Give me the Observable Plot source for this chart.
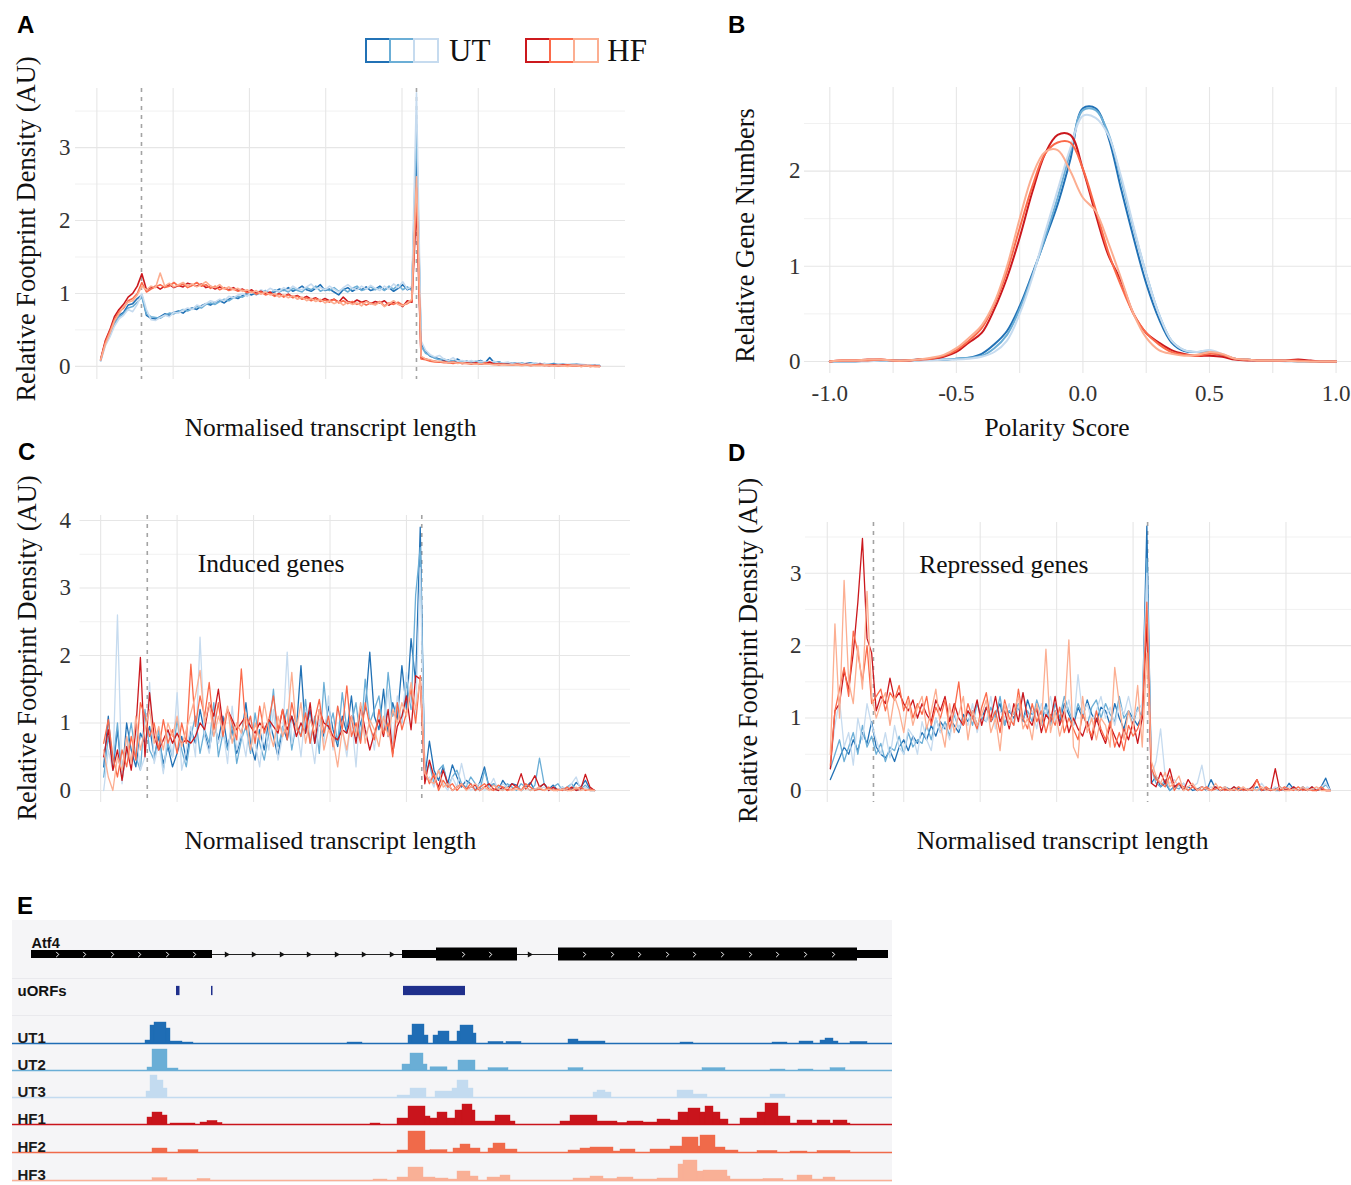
<!DOCTYPE html>
<html>
<head>
<meta charset="utf-8">
<script src="https://cdn.jsdelivr.net/npm/d3@7"></script>
<script src="https://cdn.jsdelivr.net/npm/@observablehq/plot@0.6"></script>
<style>
  html, body { margin: 0; padding: 0; background: #fff; }
  body { width: 1351px; height: 1185px; position: relative; overflow: hidden; font-family: "Liberation Serif", "Times New Roman", serif; }
  .abs { position: absolute; }
  .letter { font-family: "Liberation Sans", Arial, sans-serif; font-weight: bold; font-size: 24px; line-height: 1; color: #000; }
  .legend { display: flex; align-items: center; }
  .sq { width: 26px; height: 25px; box-sizing: border-box; border: 2px solid; background: #fff; margin-left: -2px; }
  .sq:first-child { margin-left: 0; }
  .legtext { font-size: 31px; margin-left: 10px; line-height: 1; color: #111; }
  svg { overflow: visible; }
</style>
</head>
<body>
<script>
// ---------------- shared ----------------
const seriesNames = ["UT1", "UT2", "UT3", "HF1", "HF2", "HF3"];
const seriesColors = ["#2171b5", "#6baed6", "#c6dbef", "#cb181d", "#fb6a4a", "#fcae91"];

// ---------------- Panel A: all genes metagene profile ----------------
const binStartA = 0.05, binStepA = 0.06;
const aUT1 = [0.08,0.32,0.46,0.6,0.7,0.74,0.84,0.86,0.93,0.98,
0.7,0.66,0.65,0.68,0.72,0.7,0.74,0.76,0.73,0.78,
0.8,0.78,0.83,0.86,0.84,0.88,0.9,0.87,0.92,0.95,
0.93,0.97,1.0,0.98,1.01,1.0,1.03,0.99,1.02,1.06,
1.04,1.08,1.03,1.06,1.1,1.05,1.03,1.07,1.12,1.04,
1.06,1.02,0.98,1.05,1.08,1.03,1.07,1.05,1.09,1.04,
1.06,1.1,1.05,1.08,1.03,1.07,1.12,1.05,1.08,3.0,
0.32,0.2,0.14,0.12,0.1,0.08,0.09,0.07,0.1,0.06,
0.07,0.05,0.06,0.08,0.05,0.12,0.05,0.06,0.04,0.05,
0.04,0.05,0.03,0.04,0.05,0.03,0.04,0.02,0.03,0.04,
0.02,0.03,0.02,0.02,0.03,0.02,0.01,0.02,0.01,0.01];
const aUT2 = [0.08,0.3,0.42,0.58,0.68,0.72,0.8,0.82,0.88,0.95,
0.72,0.68,0.67,0.66,0.7,0.73,0.72,0.75,0.78,0.76,
0.79,0.82,0.8,0.85,0.87,0.85,0.89,0.92,0.9,0.94,
0.96,0.95,0.99,1.02,0.98,1.01,1.04,1.0,1.05,1.02,
1.05,1.02,1.07,1.04,1.02,1.08,1.05,1.1,1.03,1.06,
1.04,1.08,1.03,1.06,1.02,1.07,1.1,1.04,1.06,1.09,
1.05,1.08,1.04,1.1,1.06,1.12,1.05,1.09,1.04,3.3,
0.28,0.18,0.15,0.11,0.09,0.1,0.07,0.08,0.06,0.07,
0.05,0.06,0.07,0.05,0.06,0.04,0.05,0.06,0.04,0.03,
0.04,0.03,0.05,0.03,0.04,0.02,0.03,0.04,0.02,0.03,
0.03,0.02,0.02,0.03,0.02,0.01,0.02,0.01,0.01,0.01];
const aUT3 = [0.07,0.28,0.4,0.55,0.65,0.7,0.78,0.75,0.85,1.0,
0.78,0.64,0.63,0.67,0.7,0.68,0.74,0.73,0.77,0.8,
0.78,0.84,0.82,0.86,0.9,0.88,0.92,0.9,0.96,0.94,
0.98,1.0,0.96,1.03,1.0,1.05,1.02,1.07,1.04,1.03,
1.08,1.04,1.1,1.06,1.05,1.09,1.13,1.06,1.08,1.05,
1.1,1.06,1.02,1.08,1.12,1.07,1.05,1.1,1.06,1.11,
1.07,1.04,1.1,1.06,1.13,1.08,1.16,1.06,1.1,3.75,
0.35,0.22,0.16,0.13,0.15,0.1,0.08,0.12,0.07,0.08,
0.06,0.08,0.05,0.07,0.06,0.05,0.07,0.04,0.05,0.06,
0.03,0.05,0.04,0.03,0.04,0.05,0.03,0.04,0.03,0.02,
0.03,0.02,0.03,0.02,0.02,0.03,0.02,0.02,0.01,0.01];
const aHF1 = [0.1,0.35,0.5,0.68,0.78,0.85,0.95,1.0,1.1,1.27,
1.05,1.08,1.1,1.06,1.1,1.12,1.08,1.11,1.09,1.14,
1.12,1.1,1.13,1.08,1.1,1.06,1.09,1.07,1.05,1.08,
1.04,1.06,1.02,1.05,1.0,1.03,0.99,1.02,0.97,1.0,
0.96,0.99,0.95,0.97,0.93,0.96,0.92,0.94,0.9,0.93,
0.9,0.92,0.88,0.95,0.89,0.87,0.91,0.88,0.9,0.86,
0.89,0.87,0.9,0.84,0.88,0.86,0.82,0.9,0.88,2.2,
0.12,0.1,0.08,0.07,0.06,0.07,0.05,0.06,0.05,0.04,
0.05,0.04,0.05,0.03,0.04,0.06,0.03,0.04,0.03,0.03,
0.02,0.03,0.02,0.03,0.02,0.02,0.03,0.02,0.01,0.02,
0.01,0.02,0.01,0.01,0.01,0.01,0.01,0.0,0.01,0.0];
const aHF2 = [0.09,0.33,0.48,0.64,0.75,0.8,0.9,0.93,1.0,1.15,
1.02,1.06,1.09,1.12,1.08,1.1,1.15,1.1,1.13,1.08,
1.11,1.15,1.1,1.12,1.07,1.1,1.05,1.08,1.04,1.06,
1.03,1.05,1.01,1.03,0.99,1.02,0.98,1.0,0.96,0.99,
0.95,0.98,0.94,0.96,0.92,0.94,0.9,0.93,0.89,0.91,
0.88,0.92,0.87,0.9,0.86,0.89,0.85,0.88,0.84,0.87,
0.85,0.89,0.83,0.87,0.85,0.88,0.84,0.86,0.9,2.45,
0.1,0.09,0.07,0.06,0.06,0.05,0.05,0.04,0.05,0.04,
0.04,0.03,0.04,0.03,0.05,0.03,0.03,0.02,0.03,0.02,
0.02,0.03,0.02,0.02,0.01,0.02,0.02,0.01,0.02,0.01,
0.01,0.01,0.02,0.01,0.01,0.0,0.01,0.01,0.0,0.0];
const aHF3 = [0.09,0.3,0.45,0.62,0.72,0.82,0.88,0.9,0.98,1.1,
1.05,1.1,1.08,1.28,1.1,1.14,1.09,1.12,1.15,1.1,
1.13,1.09,1.12,1.16,1.1,1.08,1.12,1.06,1.09,1.05,
1.07,1.03,1.05,1.01,1.04,0.99,1.02,0.98,1.0,0.95,
0.98,0.94,0.97,0.92,0.95,0.9,0.93,0.89,0.92,0.87,
0.9,0.86,0.89,0.84,0.88,0.85,0.87,0.83,0.89,0.86,
0.84,0.88,0.82,0.86,0.9,0.85,0.83,0.87,0.92,2.6,
0.14,0.1,0.09,0.07,0.07,0.06,0.05,0.06,0.04,0.05,
0.04,0.04,0.03,0.04,0.03,0.03,0.02,0.03,0.02,0.02,
0.02,0.02,0.01,0.02,0.02,0.01,0.01,0.02,0.01,0.01,
0.01,0.01,0.0,0.01,0.01,0.0,0.01,0.0,0.0,0.0];
const dashedA = [0.585, 4.19];

// ---------------- Panel B: polarity score densities ----------------
const polarityX = [-1,-0.95,-0.9,-0.85,-0.8,-0.75,-0.7,-0.65,-0.6,-0.55,-0.5,-0.45,-0.4,-0.35,-0.3,-0.25,-0.2,-0.15,-0.1,-0.05,0,
0.05,0.1,0.15,0.2,0.25,0.3,0.35,0.4,0.45,0.5,0.55,0.6,0.65,0.7,0.75,0.8,0.85,0.9,0.95,1];
const bUT1 = [0,0,0,0.01,0.01,0.01,0.01,0.02,0.02,0.02,0.03,0.04,0.08,0.18,0.32,0.58,0.92,1.28,1.65,2.12,2.66,2.66,2.36,1.82,1.3,0.82,0.45,0.2,0.11,0.1,0.1,0.06,0.03,0.02,0.01,0.01,0.01,0,0,0,0];
const bUT2 = [0,0,0,0.01,0.01,0.01,0.01,0.01,0.02,0.02,0.03,0.04,0.06,0.14,0.28,0.55,0.9,1.3,1.72,2.2,2.64,2.64,2.4,1.92,1.4,0.92,0.5,0.22,0.12,0.1,0.11,0.07,0.03,0.02,0.01,0.01,0.01,0,0,0,0];
const bUT3 = [0,0,0,0,0.01,0.01,0.01,0.01,0.01,0.02,0.02,0.03,0.05,0.1,0.22,0.5,0.88,1.35,1.8,2.24,2.58,2.56,2.38,1.95,1.42,0.92,0.5,0.22,0.12,0.1,0.12,0.08,0.03,0.02,0.01,0.01,0,0,0,0,0];
const bHF1 = [0,0.01,0.01,0.02,0.02,0.01,0.01,0.02,0.03,0.05,0.1,0.2,0.3,0.55,0.88,1.3,1.78,2.18,2.38,2.38,2.02,1.55,1.12,0.85,0.5,0.3,0.2,0.12,0.08,0.06,0.06,0.05,0.02,0.01,0.01,0.01,0.01,0.02,0.01,0,0];
const bHF2 = [0,0.01,0.01,0.01,0.02,0.01,0.01,0.02,0.03,0.06,0.12,0.22,0.35,0.6,0.95,1.4,1.84,2.18,2.3,2.3,2.02,1.6,1.15,0.8,0.5,0.3,0.18,0.1,0.07,0.06,0.08,0.07,0.03,0.02,0.01,0.01,0.01,0.01,0,0,0];
const bHF3 = [0,0.01,0.01,0.02,0.02,0.01,0.01,0.02,0.04,0.07,0.14,0.25,0.38,0.62,1.0,1.5,1.95,2.2,2.22,2.0,1.72,1.58,1.25,0.88,0.5,0.25,0.12,0.08,0.06,0.07,0.1,0.08,0.03,0.02,0.01,0.01,0.01,0,0,0,0];
const polarityTicks = [-1, -0.5, 0, 0.5, 1];

// ---------------- Panel C: induced genes ----------------
const binStartC = 0.04, binStepC = 0.06;
const cUT1 = [0.35,1.1,0.3,0.9,0.2,1.0,0.6,0.35,0.85,0.7,
0.95,0.5,0.8,0.4,0.65,0.35,0.55,0.8,0.45,0.9,
0.7,1.2,0.85,0.6,1.0,0.75,1.1,0.65,0.9,0.55,
0.8,1.3,0.7,0.45,0.9,0.6,1.05,0.8,0.5,0.95,
0.75,1.1,0.9,1.85,0.85,1.2,0.7,1.0,0.8,1.25,
0.9,0.65,1.1,0.85,1.4,0.75,1.0,1.2,2.05,1.1,
0.9,1.5,0.8,1.3,1.05,1.85,1.2,2.25,1.6,3.9,
0.2,0.73,0.3,0.15,0.35,0.1,0.38,0.2,0.05,0.15,
0.1,0.0,0.12,0.35,0.05,0.1,0.0,0.15,0.05,0.1,
0.08,0.0,0.05,0.12,0.0,0.05,0.1,0.02,0.08,0.0,
0.05,0.0,0.02,0.12,0.05,0.15,0.02,0.0];
const cUT2 = [0.2,0.8,0.4,1.0,0.15,0.6,1.0,0.5,0.3,1.2,
0.6,0.45,0.9,0.3,0.7,0.5,1.05,0.6,0.35,0.8,
1.1,0.55,0.9,0.7,1.3,0.5,0.85,0.6,1.0,0.4,
0.75,0.95,0.55,1.15,0.7,0.45,0.85,1.5,0.65,0.9,
1.2,0.6,1.0,0.8,1.35,0.7,1.1,0.55,1.6,0.9,
1.15,0.7,1.45,0.9,1.0,1.3,0.75,1.65,1.0,1.2,
1.4,0.85,1.75,1.1,1.3,1.0,1.6,1.2,2.9,3.6,
0.25,0.4,0.1,0.3,0.38,0.05,0.2,0.3,0.1,0.05,
0.2,0.1,0.0,0.3,0.05,0.1,0.05,0.0,0.1,0.05,
0.0,0.1,0.05,0.0,0.08,0.48,0.1,0.0,0.05,0.1,
0.0,0.05,0.1,0.0,0.02,0.08,0.0,0.0];
const cUT3 = [0.0,0.6,0.3,2.6,0.1,0.8,0.4,0.9,0.3,0.5,
1.6,0.4,0.7,0.25,0.9,0.5,1.45,0.3,0.6,0.95,
0.5,2.27,0.8,0.55,1.1,0.7,0.9,0.4,1.25,0.6,
0.85,0.5,1.1,0.7,0.35,0.95,0.6,1.2,0.45,0.8,
2.05,0.7,1.0,0.5,1.2,0.85,0.4,1.05,0.7,1.4,
0.6,1.25,0.9,0.5,1.1,0.35,1.3,0.8,1.0,0.6,
1.2,0.9,1.5,0.7,1.4,1.0,1.75,1.3,1.1,3.3,
0.15,0.2,0.05,0.3,0.1,0.0,0.2,0.05,0.4,0.1,
0.0,0.05,0.1,0.0,0.05,0.18,0.0,0.1,0.05,0.0,
0.05,0.0,0.1,0.05,0.0,0.03,0.05,0.0,0.02,0.0,
0.05,0.0,0.1,0.2,0.0,0.05,0.0,0.0];
const cHF1 = [0.5,0.9,0.3,0.6,0.15,0.65,0.3,0.9,1.97,0.5,
1.45,0.8,0.6,0.75,0.9,0.7,0.85,0.7,0.75,0.7,
0.8,1.0,0.9,1.3,1.1,1.5,0.95,1.2,1.05,0.9,
1.0,1.1,0.95,0.85,1.0,0.9,1.05,0.95,0.85,1.2,
0.9,1.1,0.8,1.0,0.85,1.3,0.7,1.2,1.0,0.95,
0.8,0.75,0.9,0.85,1.1,0.7,1.25,0.9,0.6,0.85,
1.05,0.8,1.2,0.55,0.95,1.1,1.4,0.9,1.7,1.65,
0.1,0.45,0.2,0.05,0.3,0.1,0.0,0.05,0.1,0.02,
0.05,0.08,0.0,0.05,0.1,0.02,0.0,0.05,0.0,0.1,
0.05,0.25,0.02,0.1,0.22,0.05,0.1,0.0,0.05,0.0,
0.02,0.0,0.05,0.0,0.02,0.24,0.05,0.0];
const cHF2 = [0.7,1.05,0.5,0.2,0.6,0.35,0.8,0.45,1.3,1.1,
0.8,1.0,0.6,1.05,0.7,0.9,0.55,1.0,0.7,1.87,
0.95,1.4,1.1,1.6,0.9,1.3,0.8,1.2,1.0,0.75,
1.8,0.9,1.1,0.7,1.25,0.85,1.05,1.4,0.9,1.2,
0.75,1.3,0.95,0.8,1.15,0.7,1.05,1.35,0.85,1.1,
0.65,1.25,0.9,1.55,0.8,1.0,0.7,1.3,0.95,0.75,
1.2,0.85,1.0,0.5,1.3,0.9,1.15,1.5,1.0,1.7,
0.3,0.1,0.25,0.0,0.15,0.05,0.1,0.0,0.08,0.02,
0.1,0.0,0.05,0.1,0.02,0.0,0.08,0.05,0.0,0.02,
0.06,0.0,0.1,0.05,0.0,0.02,0.0,0.05,0.0,0.02,
0.0,0.05,0.0,0.02,0.05,0.0,0.02,0.0];
const cHF3 = [0.6,0.2,0.0,0.5,0.3,0.8,0.4,1.1,0.6,0.9,
1.2,0.7,0.95,0.6,1.0,0.8,1.1,0.65,0.9,1.15,
1.4,1.78,1.0,1.3,0.8,1.1,0.9,1.25,0.7,1.0,
0.85,1.15,0.6,1.0,0.75,1.3,0.9,0.65,1.1,0.8,
1.0,1.75,0.9,1.3,0.7,1.05,0.85,1.2,0.6,0.9,
0.75,0.35,0.9,0.6,1.1,0.8,1.3,0.7,1.05,0.9,
0.65,1.1,0.8,1.2,1.0,1.3,1.1,1.6,1.2,1.65,
0.25,0.15,0.1,0.3,0.05,0.1,0.0,0.05,0.1,0.0,
0.05,0.1,0.0,0.05,0.0,0.08,0.02,0.0,0.05,0.0,
0.02,0.0,0.05,0.0,0.02,0.05,0.0,0.02,0.0,0.0,
0.02,0.0,0.0,0.05,0.0,0.02,0.0,0.0];
const dashedC = [0.61, 4.2];
const labelC = {x: 2.23, y: 3.36, text: "Induced genes"};

// ---------------- Panel D: repressed genes ----------------
const binStartD = 0.04, binStepD = 0.06;
const dUT1 = [0.15,0.3,0.45,0.6,0.5,0.7,0.55,0.8,0.65,0.95,
0.6,0.5,0.45,0.55,0.4,0.6,0.7,0.55,0.75,0.65,
0.8,0.7,0.9,0.75,0.95,0.85,1.0,0.9,0.8,1.05,
0.95,1.1,0.9,1.0,1.15,0.95,1.05,1.2,0.9,1.1,
1.0,1.15,0.95,1.25,1.05,1.1,0.9,1.2,1.0,1.1,
0.95,1.2,1.05,0.9,1.15,1.0,1.25,1.05,0.95,1.15,
1.1,0.9,1.2,1.0,0.85,1.1,1.0,0.9,1.05,3.65,
0.1,0.2,0.05,0.1,0.0,0.05,0.08,0.02,0.05,0.0,
0.02,0.05,0.0,0.15,0.02,0.0,0.05,0.02,0.0,0.03,
0.0,0.02,0.0,0.05,0.0,0.02,0.0,0.02,0.05,0.0,
0.1,0.02,0.0,0.05,0.0,0.02,0.0,0.05,0.17,0.0];
const dUT2 = [0.3,0.5,0.7,0.4,0.6,0.8,0.5,0.9,0.6,0.75,
0.5,0.65,0.4,0.6,0.55,0.75,0.5,0.8,0.6,0.7,
0.65,0.9,0.7,1.0,0.8,0.95,0.75,1.05,0.85,1.0,
1.1,0.9,1.2,1.0,0.95,1.15,1.0,1.3,0.9,1.1,
1.05,1.2,1.0,1.1,0.95,1.25,1.05,1.15,0.9,1.2,
1.0,1.3,1.1,0.95,1.2,1.05,0.9,1.15,1.25,1.0,
1.2,1.05,0.95,1.3,1.0,1.1,0.9,1.15,1.0,3.2,
0.3,0.1,0.05,0.15,0.0,0.05,0.02,0.1,0.0,0.05,
0.0,0.05,0.02,0.0,0.05,0.0,0.02,0.0,0.05,0.0,
0.02,0.0,0.05,0.0,0.02,0.0,0.03,0.0,0.0,0.02,
0.0,0.05,0.0,0.02,0.0,0.05,0.0,0.02,0.08,0.0];
const dUT3 = [0.4,0.9,1.25,0.6,0.8,0.35,1.0,0.7,1.2,0.9,
0.7,0.5,0.8,0.45,0.9,0.6,0.5,0.85,0.75,0.5,
0.95,0.7,0.55,1.0,0.8,0.9,0.7,1.1,0.85,1.0,
0.9,1.2,0.8,1.05,0.95,1.3,0.85,1.1,1.0,1.2,
0.9,1.15,1.35,1.0,1.1,0.85,1.2,1.05,1.3,0.95,
1.1,1.0,1.25,0.9,1.6,1.05,1.2,0.95,1.1,1.3,
1.0,1.15,0.9,1.2,1.05,1.3,1.0,1.1,1.2,3.0,
0.2,0.4,0.85,0.2,0.1,0.15,0.05,0.1,0.0,0.05,
0.1,0.35,0.0,0.05,0.02,0.0,0.05,0.0,0.02,0.05,
0.0,0.02,0.05,0.0,0.1,0.02,0.0,0.05,0.0,0.02,
0.05,0.0,0.02,0.0,0.05,0.0,0.02,0.05,0.1,0.0];
const dHF1 = [0.3,1.1,1.2,1.65,1.4,1.9,2.6,3.48,2.1,1.9,
1.1,1.3,1.2,1.55,1.25,1.35,1.2,1.1,1.25,1.0,
1.2,1.05,0.95,1.25,1.1,1.3,0.95,1.2,1.0,0.9,
1.1,1.0,1.25,0.9,1.15,1.0,1.3,0.95,1.1,0.85,
1.2,0.95,1.35,1.0,0.9,1.15,0.8,1.05,0.95,1.3,
0.9,1.1,0.8,1.0,0.85,0.75,0.95,0.7,1.0,0.8,
0.65,0.9,0.75,0.6,0.85,0.7,0.95,0.65,1.0,2.3,
0.1,0.05,0.25,0.1,0.3,0.05,0.1,0.0,0.15,0.05,
0.0,0.05,0.02,0.0,0.05,0.0,0.02,0.0,0.05,0.0,
0.02,0.0,0.05,0.15,0.0,0.02,0.0,0.3,0.0,0.02,
0.0,0.05,0.0,0.02,0.0,0.05,0.0,0.02,0.0,0.0];
const dHF2 = [0.35,1.1,1.4,1.7,1.3,2.2,1.9,1.5,2.0,1.2,
1.3,1.4,1.1,1.35,1.25,1.45,1.1,1.3,1.0,1.2,
1.05,1.3,0.9,1.15,1.0,1.25,0.85,1.1,1.5,0.9,
1.2,1.0,0.85,1.15,1.35,0.95,1.1,0.8,1.25,1.0,
0.9,1.4,1.0,0.85,1.2,0.95,1.1,0.8,1.05,0.9,
1.15,0.8,1.0,0.85,0.7,1.05,0.9,0.75,1.1,0.85,
0.7,0.95,0.6,0.8,0.55,0.9,0.75,0.85,1.05,2.6,
0.3,0.15,0.1,0.05,0.2,0.0,0.1,0.05,0.0,0.05,
0.02,0.0,0.05,0.0,0.02,0.05,0.0,0.02,0.0,0.05,
0.0,0.02,0.0,0.15,0.0,0.05,0.0,0.02,0.0,0.05,
0.02,0.0,0.05,0.0,0.02,0.0,0.0,0.05,0.0,0.0];
const dHF3 = [0.5,2.3,1.0,2.9,1.5,1.2,2.0,1.4,2.75,1.3,
1.0,1.2,1.35,0.9,1.3,1.1,0.8,1.25,0.9,1.15,
1.3,0.85,1.1,1.4,0.9,0.6,1.2,0.8,1.05,1.3,
0.7,1.1,0.9,1.05,1.25,0.8,1.0,0.55,1.2,0.9,
1.1,1.3,0.85,1.0,0.7,1.2,0.9,1.95,0.8,1.1,
0.75,1.0,2.08,0.6,0.45,1.3,0.8,1.0,0.7,1.0,
0.9,0.6,1.7,1.2,0.7,1.1,0.85,1.45,0.6,1.9,
0.4,0.2,0.1,0.25,0.05,0.1,0.2,0.0,0.05,0.1,
0.0,0.05,0.02,0.0,0.1,0.0,0.05,0.0,0.02,0.0,
0.05,0.0,0.02,0.0,0.05,0.0,0.02,0.0,0.05,0.0,
0.0,0.02,0.0,0.05,0.0,0.02,0.05,0.0,0.0,0.0];
const dashedD = [0.604, 4.19];
const labelD = {x: 2.31, y: 3.12, text: "Repressed genes"};

// ---------------- Panel E: Atf4 genome browser (positions in bp) ----------------
const locusDomain = [24, 1784];
const atf4Exons = [
  {start: 62, end: 424, part: "UTR"},
  {start: 804, end: 872, part: "UTR"},
  {start: 872, end: 1034, part: "CDS"},
  {start: 1116, end: 1714, part: "CDS"},
  {start: 1714, end: 1776, part: "UTR"}
];
const atf4Introns = [[424, 804], [1034, 1116]];
const atf4ExonChevrons = [114, 168, 224, 278, 334, 388, 926, 980, 1168, 1224, 1278, 1334, 1388, 1444, 1500, 1554, 1610, 1666];
const atf4IntronArrows = [452, 506, 562, 616, 672, 726, 782, 1058];
const uorfs = [[352, 359], [422, 425], [806, 930]];
const trackNames = ["UT1", "UT2", "UT3", "HF1", "HF2", "HF3"];
const trackUT1 = [[290,300,15],[300,308,90],[308,332,105],[332,340,75],[340,364,10],[364,386,5],[694,724,5],[816,824,40],[824,848,95],[848,856,40],[866,876,40],[876,898,60],[898,914,10],[914,920,60],[920,946,90],[946,952,50],[976,1006,8],[1012,1042,8],[1136,1156,20],[1156,1210,10],[1360,1386,5],[1544,1574,5],[1598,1626,10],[1640,1650,15],[1650,1666,25],[1666,1676,10],[1700,1734,8]];
const trackUT2 = [[294,304,15],[304,334,105],[334,356,10],[804,820,30],[820,846,85],[846,854,30],[860,894,16],[916,950,50],[976,1016,12],[1136,1166,12],[1404,1450,12],[1540,1570,5],[1596,1626,5],[1660,1690,12]];
const trackUT3 = [[292,300,30],[300,314,110],[314,326,85],[326,334,45],[794,820,10],[820,852,45],[870,904,30],[904,914,45],[914,936,85],[936,946,45],[1186,1194,25],[1194,1210,35],[1210,1222,25],[1354,1386,35],[1386,1414,15],[1540,1570,15]];
const trackHF1 = [[294,304,35],[304,324,60],[324,334,45],[340,390,5],[400,414,10],[414,434,18],[434,444,8],[740,760,5],[794,816,30],[816,850,90],[850,860,40],[860,874,30],[874,894,60],[894,910,30],[910,924,70],[924,944,100],[944,950,70],[950,990,15],[990,1020,45],[1020,1030,15],[1120,1140,15],[1140,1194,45],[1194,1234,15],[1234,1254,8],[1254,1286,15],[1286,1314,10],[1314,1340,25],[1340,1356,20],[1356,1376,60],[1376,1400,80],[1400,1410,60],[1410,1426,90],[1426,1440,60],[1440,1456,25],[1480,1514,30],[1514,1530,60],[1530,1556,105],[1556,1580,40],[1580,1594,5],[1594,1624,20],[1624,1634,5],[1634,1660,20],[1660,1666,5],[1666,1694,20],[1694,1700,5]];
const trackHF2 = [[304,334,20],[356,396,12],[794,816,10],[816,850,105],[850,860,10],[860,894,12],[906,920,20],[920,940,40],[940,960,20],[976,986,20],[986,1010,45],[1010,1034,15],[1136,1160,10],[1160,1180,20],[1180,1226,25],[1226,1240,5],[1240,1270,15],[1300,1340,15],[1340,1364,30],[1364,1396,75],[1396,1400,30],[1400,1430,85],[1430,1450,25],[1450,1476,10],[1514,1554,8],[1580,1614,5],[1634,1700,8]];
const trackHF3 = [[304,334,12],[394,420,8],[746,774,5],[794,816,15],[816,846,65],[846,870,15],[870,896,10],[896,914,5],[914,940,45],[940,956,20],[974,1000,15],[1000,1020,25],[1146,1180,10],[1180,1206,20],[1206,1234,8],[1234,1266,15],[1266,1314,5],[1314,1356,10],[1356,1366,80],[1366,1394,100],[1394,1406,45],[1406,1454,50],[1454,1460,20],[1460,1526,5],[1526,1566,8],[1594,1624,25],[1624,1646,5],[1646,1670,15]];
const trackColors = ["#1f6db5", "#6aaed6", "#c3dbf0", "#c9141c", "#f06a4a", "#f9b096"];

// ======================================================================
const SERIF = "'Liberation Serif', 'Times New Roman', serif";
const SANS = "'Liberation Sans', Arial, sans-serif";

function place(node, left, top) {
  const d = document.createElement("div");
  d.className = "abs";
  d.style.left = left + "px";
  d.style.top = top + "px";
  d.appendChild(node);
  document.body.appendChild(d);
  return d;
}
function html(str, left, top, cls) {
  const d = document.createElement("div");
  d.className = "abs " + (cls || "");
  d.style.left = left + "px";
  d.style.top = top + "px";
  d.innerHTML = str;
  document.body.appendChild(d);
}

function binnedRows(arrays, start, step) {
  return seriesNames.flatMap((s, k) => arrays[k].map((y, i) => ({series: s, x: start + i * step, y})));
}
function xyRows(xs, arrays) {
  return seriesNames.flatMap((s, k) => arrays[k].map((y, i) => ({series: s, x: xs[i], y})));
}

function chart(o) {
  const marks = [
    Plot.ruleY(o.yMinor, {stroke: "#f1f1f1", strokeWidth: 1}),
    Plot.ruleY(o.yTicks, {stroke: "#e6e6e6", strokeWidth: 1.1}),
    Plot.ruleX(o.xGrid, {stroke: "#e6e6e6", strokeWidth: 1.1}),
  ];
  if (o.dashed) marks.push(Plot.ruleX(o.dashed, {stroke: "#a3a3a3", strokeWidth: 1.6, strokeDasharray: "4,5"}));
  marks.push(Plot.line(o.rows, {x: "x", y: "y", z: "series", stroke: "series", strokeWidth: o.lineWidth, curve: o.curve || "linear"}));
  marks.push(Plot.text([o.yTitle], {frameAnchor: "left", textAnchor: "middle", lineAnchor: "middle", rotate: -90, dx: o.yTitleDx, dy: o.yTitleDy, fontSize: 26.5, fill: "#111", fontFamily: SERIF}));
  marks.push(Plot.text([o.xTitle], {frameAnchor: "bottom", textAnchor: "middle", lineAnchor: "middle", dx: o.xTitleDx, dy: o.xTitleDy, fontSize: 25.5, fill: "#111", fontFamily: SERIF}));
  if (o.label) marks.push(Plot.text([o.label], {x: "x", y: "y", text: "text", fontSize: 25.5, fill: "#111", fontFamily: SERIF}));
  return Plot.plot({
    width: o.width, height: o.height,
    marginLeft: o.ml, marginRight: o.mr, marginTop: o.mt, marginBottom: o.mb,
    style: {fontFamily: SERIF, fontSize: "23px", color: "#333", background: "none", overflow: "visible"},
    x: o.xTicks
      ? {domain: o.xDomain, ticks: o.xTicks, tickFormat: d => d.toFixed(1), tickSize: 0, tickPadding: o.xPad, label: null}
      : {domain: o.xDomain, axis: null},
    y: {domain: o.yDomain, ticks: o.yTicks, tickFormat: d => String(d), tickSize: 0, tickPadding: o.yPad, label: null},
    color: {domain: seriesNames, range: seriesColors},
    marks
  });
}

// Panel A
place(chart({
  rows: binnedRows([aUT1, aUT2, aUT3, aHF1, aHF2, aHF3], binStartA, binStepA),
  width: 640, height: 375, ml: 75, mr: 15, mt: 8, mb: 76,
  xDomain: [-0.28, 6.93], yDomain: [-0.18, 3.81],
  yTicks: [0, 1, 2, 3], yMinor: [0.5, 1.5, 2.5, 3.5], xGrid: [0, 1, 2, 3, 4, 5, 6],
  dashed: dashedA, lineWidth: 1.6, yPad: 5,
  yTitle: "Relative Footprint Density (AU)", yTitleDx: -49, yTitleDy: -5,
  xTitle: "Normalised transcript length", xTitleDx: -20, xTitleDy: 48
}), 0, 80);

// Panel B
place(chart({
  rows: xyRows(polarityX, [bUT1, bUT2, bUT3, bHF1, bHF2, bHF3]),
  width: 651, height: 375, ml: 104, mr: 0, mt: 7, mb: 82,
  xDomain: [-1.1, 1.061], yDomain: [-0.126, 2.878],
  xTicks: polarityTicks, xPad: 11,
  yTicks: [0, 1, 2], yMinor: [0.5, 1.5, 2.5],
  xGrid: [-1, -0.75, -0.5, -0.25, 0, 0.25, 0.5, 0.75, 1],
  lineWidth: 2, curve: "catmull-rom", yPad: 4,
  yTitle: "Relative Gene Numbers", yTitleDx: -59, yTitleDy: 5,
  xTitle: "Polarity Score", xTitleDx: -21, xTitleDy: 54
}), 700, 80);

// Panel C
place(chart({
  rows: binnedRows([cUT1, cUT2, cUT3, cHF1, cHF2, cHF3], binStartC, binStepC),
  width: 640, height: 360, ml: 79.5, mr: 10, mt: 15, mb: 58,
  xDomain: [-0.27, 6.93], yDomain: [-0.178, 4.074],
  yTicks: [0, 1, 2, 3, 4], yMinor: [0.5, 1.5, 2.5, 3.5], xGrid: [0, 1, 2, 3, 4, 5, 6],
  dashed: dashedC, lineWidth: 1.3, yPad: 9, label: labelC,
  yTitle: "Relative Footprint Density (AU)", yTitleDx: -52, yTitleDy: -11,
  xTitle: "Normalised transcript length", xTitleDx: -25, xTitleDy: 38
}), 0, 500);

// Panel D
place(chart({
  rows: binnedRows([dUT1, dUT2, dUT3, dHF1, dHF2, dHF3], binStartD, binStepD),
  width: 651, height: 360, ml: 105, mr: 0, mt: 22, mb: 58,
  xDomain: [-0.285, 6.857], yDomain: [-0.166, 3.70],
  yTicks: [0, 1, 2, 3], yMinor: [0.5, 1.5, 2.5, 3.5], xGrid: [0, 1, 2, 3, 4, 5, 6],
  dashed: dashedD, lineWidth: 1.3, yPad: 4, label: labelD,
  yTitle: "Relative Footprint Density (AU)", yTitleDx: -57, yTitleDy: -12,
  xTitle: "Normalised transcript length", xTitleDx: -16, xTitleDy: 38
}), 700, 500);

// Legend (top of panel A)
html(`<div class="legend">
  <div class="sq" style="border-color:${seriesColors[0]}"></div><div class="sq" style="border-color:${seriesColors[1]}"></div><div class="sq" style="border-color:${seriesColors[2]}"></div>
  <span class="legtext">UT</span>
  <div style="width:37px"></div>
  <div class="sq" style="border-color:${seriesColors[3]}"></div><div class="sq" style="border-color:${seriesColors[4]}"></div><div class="sq" style="border-color:${seriesColors[5]}"></div>
  <span class="legtext" style="margin-left:8px">HF</span>
</div>`, 365, 35);

// Panel letters
html("A", 17, 13, "letter");
html("B", 728, 13, "letter");
html("C", 18, 440, "letter");
html("D", 728, 441, "letter");
html("E", 17, 894, "letter");

// Panel E background and separators
const bg = document.createElement("div");
bg.className = "abs";
Object.assign(bg.style, {left: "12px", top: "920px", width: "880px", height: "262px", background: "#f5f5f7"});
document.body.appendChild(bg);
for (const yy of [978, 1015]) {
  const s = document.createElement("div");
  s.className = "abs";
  Object.assign(s.style, {left: "12px", top: yy + "px", width: "880px", height: "1px", background: "#e9e9ed"});
  document.body.appendChild(s);
}

// Gene model row
const halfHeight = {UTR: 0.143, CDS: 0.232};
const chevron = {draw(ctx, size) { const r = Math.sqrt(size / Math.PI); ctx.moveTo(-r * 0.5, -r); ctx.lineTo(r * 0.5, 0); ctx.lineTo(-r * 0.5, r); }};
place(Plot.plot({
  width: 880, height: 56, marginLeft: 0, marginRight: 0, marginTop: 0, marginBottom: 0,
  style: {background: "none", overflow: "visible"},
  x: {domain: locusDomain, axis: null}, y: {domain: [-1, 1], axis: null},
  marks: [
    Plot.ruleY(atf4Introns, {y: () => 0, x1: d => d[0], x2: d => d[1], stroke: "#222", strokeWidth: 1}),
    Plot.dot(atf4IntronArrows, {x: d => d, y: () => 0, symbol: "triangle", r: 2.2, rotate: 90, fill: "#111", stroke: null}),
    Plot.rect(atf4Exons, {x1: "start", x2: "end", y1: d => -halfHeight[d.part], y2: d => halfHeight[d.part], fill: "#000"}),
    Plot.dot(atf4ExonChevrons, {x: d => d, y: () => 0, symbol: chevron, r: 2.6, fill: "none", stroke: "#fff", strokeWidth: 1}),
    Plot.text(["Atf4"], {frameAnchor: "left", textAnchor: "start", lineAnchor: "middle", dx: 19, dy: -11, fontSize: 14.5, fontWeight: "bold", fontFamily: SANS, fill: "#111"})
  ]
}), 12, 925.5);

// uORF row
place(Plot.plot({
  width: 880, height: 37, marginLeft: 0, marginRight: 0, marginTop: 0, marginBottom: 0,
  style: {background: "none", overflow: "visible"},
  x: {domain: locusDomain, axis: null}, y: {domain: [-2, 2], axis: null},
  marks: [
    Plot.rect(uorfs, {x1: d => d[0], x2: d => d[1], y1: () => -0.5, y2: () => 0.5, fill: "#1f2f8c"}),
    Plot.text(["uORFs"], {frameAnchor: "left", textAnchor: "start", lineAnchor: "middle", dx: 5, dy: 0, fontSize: 15, fontWeight: "bold", fontFamily: SANS, fill: "#111"})
  ]
}), 12, 972);

// Coverage tracks
const trackData = [trackUT1, trackUT2, trackUT3, trackHF1, trackHF2, trackHF3];
const trackBaselines = [1043, 1070, 1097, 1124, 1152, 1180];
trackNames.forEach((name, k) => {
  const color = trackColors[k];
  place(Plot.plot({
    width: 880, height: 29, marginLeft: 0, marginRight: 0, marginTop: 0, marginBottom: 2,
    style: {background: "none", overflow: "visible"},
    x: {domain: locusDomain, axis: null}, y: {domain: [0, 135], axis: null},
    marks: [
      Plot.rect(trackData[k], {x1: d => d[0], x2: d => d[1], y1: () => 0, y2: d => d[2], fill: color, stroke: color, strokeWidth: 0.4}),
      Plot.ruleY([0], {stroke: color, strokeWidth: 1.6}),
      Plot.text([name], {frameAnchor: "bottom-left", textAnchor: "start", lineAnchor: "bottom", dx: 5, dy: -1, fontSize: 15, fontWeight: "bold", fontFamily: SANS, fill: "#1a1a1a"})
    ]
  }), 12, trackBaselines[k] - 27);
});
</script>
</body>
</html>
